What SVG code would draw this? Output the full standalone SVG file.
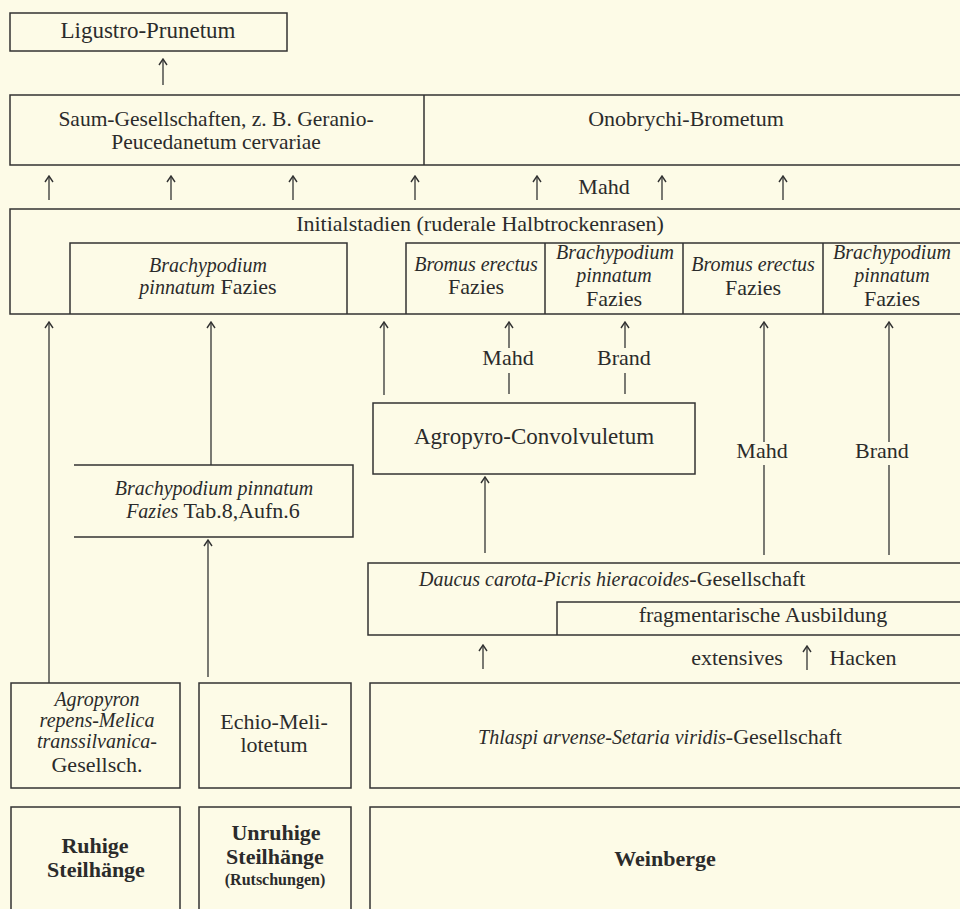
<svg xmlns="http://www.w3.org/2000/svg" width="960" height="909" viewBox="0 0 960 909" font-family="'Liberation Serif', 'Times New Roman', serif">
<style>
.bx{fill:none;stroke:#333;stroke-width:1.5}
.ln{fill:none;stroke:#333;stroke-width:1.3}
text{font-family:'Liberation Serif','Times New Roman',serif;font-size:22px;fill:#2b2b2b;text-anchor:middle}
.i{font-style:italic;font-size:20px}
.b{font-weight:bold;font-size:22px}
</style>
<defs>
<marker id="ah" viewBox="0 0 10 10" refX="9" refY="5" markerWidth="10" markerHeight="10" markerUnits="userSpaceOnUse" orient="auto">
<path d="M3,1 L9,5 L3,9" fill="none" stroke="#333" stroke-width="1.4"/>
</marker>
</defs>
<rect width="960" height="909" fill="#fdfbe7"/>
<g id="ligustro"><rect class="bx" x="10" y="13" width="277" height="38"/><text x="148" y="38" style="font-size:23px">Ligustro-Prunetum</text></g>
<g id="saum"><path class="bx" d="M960,95 H10 V165 H960 M424,95 V165"/><text x="216" y="126" style="font-size:21.5px">Saum-Gesellschaften, z. B. Geranio-</text><text x="216" y="149" style="font-size:21.5px">Peucedanetum cervariae</text></g>
<g id="onobrychi"><text x="686" y="126">Onobrychi-Brometum</text></g>
<g id="initial"><path class="bx" d="M960,209 H10 V314 H960"/><text x="480" y="231">Initialstadien (ruderale Halbtrockenrasen)</text></g>
<g id="brachy1"><path class="bx" d="M70,314 V243 H347 V314"/><text class="i" x="208" y="272">Brachypodium</text><text x="208" y="294"><tspan class="i">pinnatum</tspan> Fazies</text></g>
<g id="bromus1"><path class="bx" d="M406,314 V243 H960 M545,243 V314 M683,243 V314 M823,243 V314"/><text class="i" x="476" y="271">Bromus erectus</text><text x="476" y="294">Fazies</text></g>
<g id="brachy2"><text class="i" x="615" y="259">Brachypodium</text><text class="i" x="614" y="282">pinnatum</text><text x="614" y="306">Fazies</text></g>
<g id="bromus2"><text class="i" x="753" y="271">Bromus erectus</text><text x="753" y="295">Fazies</text></g>
<g id="brachy3"><text class="i" x="892" y="259">Brachypodium</text><text class="i" x="892" y="282">pinnatum</text><text x="892" y="306">Fazies</text></g>
<g id="agropyro"><rect class="bx" x="373" y="403" width="322" height="71"/><text x="534" y="444" style="font-size:23px">Agropyro-Convolvuletum</text></g>
<g id="brachy4"><path class="bx" d="M74,465 H353 V537 H74"/><text x="214" y="495" class="i">Brachypodium  pinnatum</text><text x="213" y="518"><tspan class="i">Fazies</tspan> Tab.8,Aufn.6</text></g>
<g id="daucus"><path class="bx" d="M960,563 H368 V635 H960 M960,602 H557 V635"/><text x="419" y="586" style="text-anchor:start"><tspan class="i">Daucus carota-Picris hieracoides</tspan>-Gesellschaft</text><text x="763" y="622">fragmentarische Ausbildung</text></g>
<g id="agropyron"><rect class="bx" x="11" y="683" width="169" height="105"/><text class="i" x="97" y="706">Agropyron</text><text class="i" x="97" y="727">repens-Melica</text><text class="i" x="97" y="748">transsilvanica-</text><text x="97" y="772">Gesellsch.</text></g>
<g id="echio"><rect class="bx" x="199" y="683" width="152" height="105"/><text x="274" y="729">Echio-Meli-</text><text x="274" y="752">lotetum</text></g>
<g id="thlaspi"><path class="bx" d="M960,683 H370 V788 H960"/><text x="660" y="744"><tspan class="i">Thlaspi arvense-Setaria viridis</tspan>-Gesellschaft</text></g>
<g id="ruhige"><path class="bx" d="M11,909 V807 H180 V909"/><text class="b" x="95" y="853">Ruhige</text><text class="b" x="96" y="877">Steilhänge</text></g>
<g id="unruhige"><path class="bx" d="M199,909 V807 H351 V909"/><text class="b" x="276" y="840">Unruhige</text><text class="b" x="275" y="864">Steilhänge</text><text class="b" x="275" y="885" style="font-size:16px">(Rutschungen)</text></g>
<g id="weinberge"><path class="bx" d="M370,909 V807 H960"/><text class="b" x="665" y="866">Weinberge</text></g>
<g id="connectors">
<path class="ln" marker-end="url(#ah)" d="M163,85 V59"/>
<path class="ln" marker-end="url(#ah)" d="M49,200 V176"/>
<path class="ln" marker-end="url(#ah)" d="M171,200 V176"/>
<path class="ln" marker-end="url(#ah)" d="M293,200 V176"/>
<path class="ln" marker-end="url(#ah)" d="M415,200 V176"/>
<path class="ln" marker-end="url(#ah)" d="M537,200 V176"/>
<path class="ln" marker-end="url(#ah)" d="M662,200 V176"/>
<path class="ln" marker-end="url(#ah)" d="M783,200 V176"/>
<text x="604" y="194">Mahd</text>
<path class="ln" marker-end="url(#ah)" d="M49,683 V322"/>
<path class="ln" marker-end="url(#ah)" d="M211,465 V322"/>
<path class="ln" marker-end="url(#ah)" d="M384,395 V322"/>
<path class="ln" marker-end="url(#ah)" d="M509,348 V322"/>
<path class="ln" d="M509,373 V394"/>
<text x="508" y="365">Mahd</text>
<path class="ln" marker-end="url(#ah)" d="M625,348 V322"/>
<path class="ln" d="M625,373 V394"/>
<text x="624" y="365">Brand</text>
<path class="ln" marker-end="url(#ah)" d="M764,442 V322"/>
<path class="ln" d="M764,465 V555"/>
<text x="762" y="458">Mahd</text>
<path class="ln" marker-end="url(#ah)" d="M889,442 V322"/>
<path class="ln" d="M889,465 V555"/>
<text x="882" y="458">Brand</text>
<path class="ln" marker-end="url(#ah)" d="M485,553 V477"/>
<path class="ln" marker-end="url(#ah)" d="M208,677 V540"/>
<path class="ln" marker-end="url(#ah)" d="M483,669 V645"/>
<path class="ln" marker-end="url(#ah)" d="M807,670 V646"/>
<text x="737" y="665">extensives</text>
<text x="863" y="665">Hacken</text>
</g>
</svg>
